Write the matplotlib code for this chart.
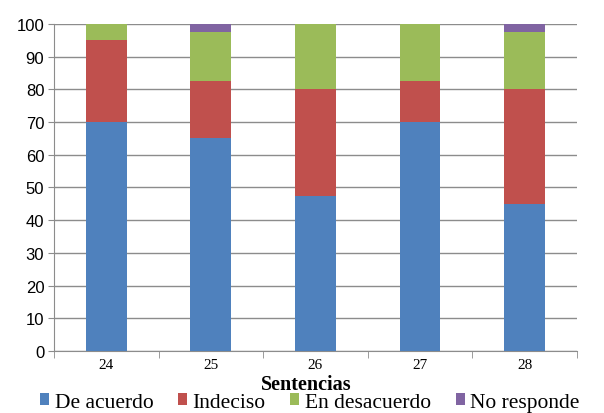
import matplotlib.pyplot as plt
import numpy as np
from matplotlib.ticker import FixedLocator

# Responses per statement (percent)
sentencias = ['24', '25', '26', '27', '28']
de_acuerdo = [70, 65, 47.5, 70, 45]
indeciso = [25, 17.5, 32.5, 12.5, 35]
en_desacuerdo = [5, 15, 20, 17.5, 17.5]
no_responde = [0, 2.5, 0, 0, 2.5]

series = [
    ('De acuerdo', de_acuerdo, '#4F81BD'),
    ('Indeciso', indeciso, '#C0504D'),
    ('En desacuerdo', en_desacuerdo, '#9BBB59'),
    ('No responde', no_responde, '#8064A2'),
]

fig = plt.figure(figsize=(6.04, 4.14), dpi=100)
ax = fig.add_axes([0.0894, 0.1498, 0.8656, 0.7898])

x = np.arange(len(sentencias))
bottom = np.zeros(len(sentencias))
for label, vals, color in series:
    ax.bar(x, vals, 0.39, bottom=bottom, color=color, label=label, zorder=3)
    bottom += np.array(vals)

ax.set_xlim(-0.5, len(sentencias) - 0.5)
ax.set_ylim(0, 100)
ax.set_yticks(np.arange(0, 101, 10))
ax.yaxis.grid(True, color='#8c8c8c', linewidth=1.0, zorder=0)
ax.set_axisbelow(True)

for side in ['top', 'right']:
    ax.spines[side].set_visible(False)
ax.spines['left'].set_color('#8c8c8c')
ax.spines['bottom'].set_color('#8c8c8c')

# category labels centred, tick marks between categories
ax.set_xticks(x)
ax.set_xticklabels(sentencias, fontfamily='Liberation Serif', fontsize=11)
ax.tick_params(axis='x', length=0, pad=5)
ax.xaxis.set_minor_locator(FixedLocator(np.arange(-0.5, len(sentencias), 1.0)))
ax.tick_params(axis='x', which='minor', length=5, color='#8c8c8c')
ax.tick_params(axis='y', length=4, color='#8c8c8c', labelsize=12, pad=3)
for t in ax.get_yticklabels():
    t.set_fontfamily('Liberation Sans')

fig.text(0.507, 0.058, 'Sentencias', fontfamily='Liberation Serif',
         fontweight='bold', fontsize=14.5, ha='center', va='baseline')

handles, labels = ax.get_legend_handles_labels()
fig.legend(handles, labels, loc='lower center', bbox_to_anchor=(0.513, 0.003), ncol=4,
           frameon=False, prop={'family': 'Liberation Serif', 'size': 15.5},
           handlelength=0.42, handleheight=0.42, handletextpad=0.25,
           columnspacing=1.15, borderpad=0, borderaxespad=0)

fig.savefig('out.png', dpi=100)
